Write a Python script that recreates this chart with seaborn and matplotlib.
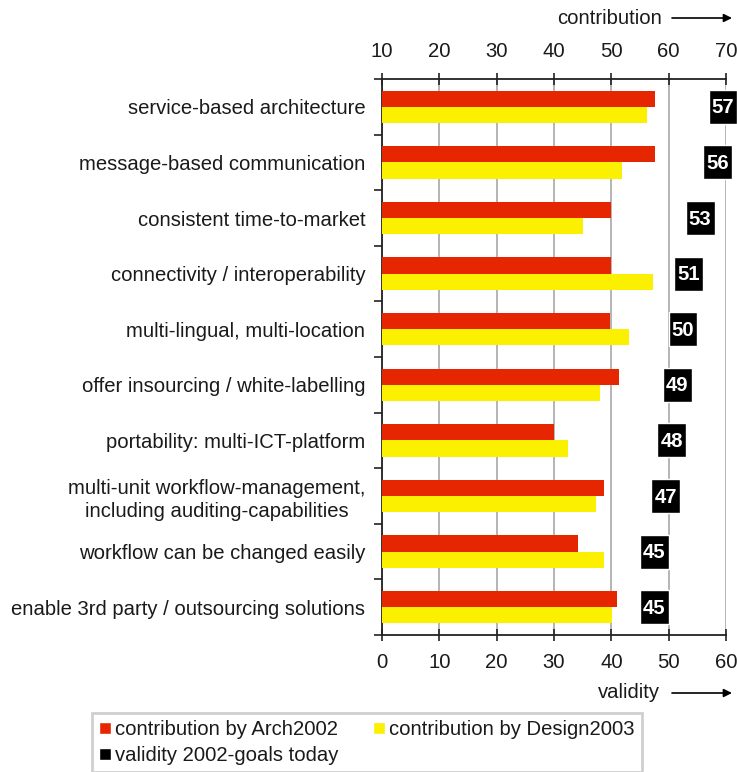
import matplotlib
matplotlib.use("Agg")
import matplotlib.pyplot as plt
from matplotlib.patches import Patch
import seaborn as sns
import pandas as pd

categories = [
    "service-based architecture",
    "message-based communication",
    "consistent time-to-market",
    "connectivity / interoperability",
    "multi-lingual, multi-location",
    "offer insourcing / white-labelling",
    "portability: multi-ICT-platform",
    "multi-unit workflow-management,\nincluding auditing-capabilities",
    "workflow can be changed easily",
    "enable 3rd party / outsourcing solutions",
]
arch2002 = [57.7, 57.7, 50.0, 50.0, 49.8, 51.4, 40.0, 48.8, 44.2, 51.0]
design2003 = [56.2, 51.8, 45.0, 57.3, 53.1, 48.1, 42.5, 47.4, 48.8, 50.2]
validity = [57, 56, 53, 51, 50, 49, 48, 47, 45, 45]

series_names = ["contribution by Arch2002", "contribution by Design2003"]
legend_validity = "validity 2002-goals today"
contrib_ticks = [10, 20, 30, 40, 50, 60, 70]
validity_ticks = [0, 10, 20, 30, 40, 50, 60]

RED = "#E62600"
YELLOW = "#FAF000"
TEXT = "#1a1a1a"
FS = 14.6

sns.set_style("white")
plt.rcParams["font.family"] = ["Liberation Sans", "DejaVu Sans"]
plt.rcParams["font.size"] = FS
plt.rcParams["text.color"] = TEXT

df = pd.DataFrame({
    "category": categories * 2,
    "contribution": arch2002 + design2003,
    "series": [series_names[0]] * len(categories) + [series_names[1]] * len(categories),
})

W, H = 737, 772
fig = plt.figure(figsize=(W / 100, H / 100), dpi=100)
left, right, top, bottom = 382, 726, 79, 635
ax = fig.add_axes([left / W, 1 - bottom / H, (right - left) / W, (bottom - top) / H])
ax_top = ax.twiny()

# contribution bars on the top (contribution) axis
sns.barplot(data=df, y="category", x="contribution", hue="series",
            palette=[RED, YELLOW], saturation=1, width=0.58, gap=0,
            errorbar=None, linewidth=0, orient="h", legend=False, ax=ax_top)
ax_top.set_xlim(10, 70)
ax_top.set_xticks(contrib_ticks)
ax_top.set_xlabel("")
ax_top.set_ylabel("")
ax_top.grid(False)

# validity boxes on the bottom (validity) axis
ax.set_xlim(0, 60)
ax.set_ylim(len(categories) - 0.5, -0.5)
ypos = list(range(len(categories)))
boxes = ax.barh(ypos, [5] * len(validity), left=validity, height=0.61,
                color="black", zorder=3)
for b in boxes:
    b.set_clip_on(False)
for y, v in zip(ypos, validity):
    ax.text(v + 2.5, y + 0.02, str(v), color="white", fontsize=FS, fontweight="bold",
            ha="center", va="center", zorder=4, clip_on=False)

ax.set_xticks(validity_ticks)
ax.set_axisbelow(True)
ax.grid(axis="x", color="#b4b4b4", linewidth=1.4)
ax.grid(axis="y", visible=False)

# category labels centered on rows, tick marks between rows
ax.set_yticks([i - 0.5 for i in range(len(categories) + 1)])
ax.set_yticklabels([])
ax.set_yticks(ypos, minor=True)
ax.set_yticklabels(categories, minor=True, fontsize=FS, color=TEXT,
                   multialignment="center", linespacing=1.25)
ax.tick_params(axis="y", which="major", direction="out", length=6, width=1.2,
               color="#222222", left=True)
ax.tick_params(axis="y", which="minor", length=0, pad=12, left=True)
ax.set_xlabel("")
ax.set_ylabel("")

for a in (ax, ax_top):
    a.tick_params(axis="x", direction="inout", length=8, width=1.2,
                  color="#222222", labelsize=FS, labelcolor=TEXT, pad=9)

for name, sp in ax.spines.items():
    sp.set_visible(name in ("left", "bottom"))
    sp.set_color("#222222")
    sp.set_linewidth(1.3)
for name, sp in ax_top.spines.items():
    sp.set_visible(name == "top")
    sp.set_color("#222222")
    sp.set_linewidth(1.3)

# axis captions with arrows
fig.text(610 / W, 1 - 18 / H, "contribution", ha="center", va="center",
         fontsize=FS, color=TEXT)
fig.text(629 / W, 1 - 692 / H, "validity", ha="center", va="center",
         fontsize=FS, color=TEXT)
for yy in (18, 693):
    fig.add_artist(plt.Annotation(
        "", xy=(732 / W, 1 - yy / H), xytext=(672 / W, 1 - yy / H),
        xycoords="figure fraction", textcoords="figure fraction",
        arrowprops=dict(arrowstyle="-|>", color="black", lw=1.2,
                        mutation_scale=12, shrinkA=0, shrinkB=0)))

handles = [Patch(facecolor=RED), Patch(facecolor="black"), Patch(facecolor=YELLOW)]
labels = [series_names[0], legend_validity, series_names[1]]
leg = fig.legend(handles, labels, loc="upper left",
                 bbox_to_anchor=(92 / W, 1 - 713 / H), ncol=2, fontsize=FS,
                 frameon=True, fancybox=False, edgecolor="#c4c4c4",
                 handlelength=0.6, handleheight=0.6, handletextpad=0.2,
                 columnspacing=1.7, labelspacing=0.35, borderpad=0.35,
                 borderaxespad=0)
leg.get_frame().set_linewidth(2)

fig.savefig("out.png", dpi=100)
